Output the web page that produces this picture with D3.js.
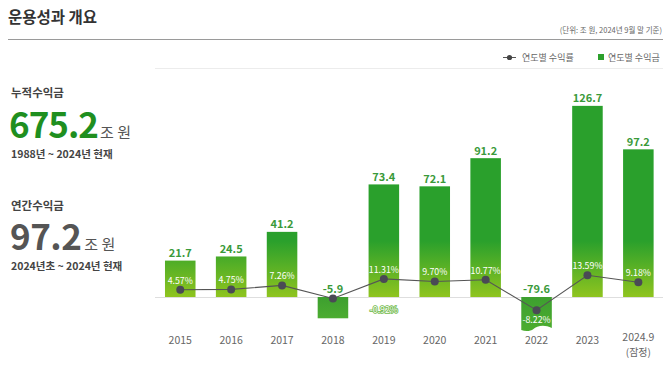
<!DOCTYPE html>
<html><head><meta charset="utf-8">
<script src="https://cdn.jsdelivr.net/npm/d3@7"></script>
<style>
html,body{margin:0;padding:0;background:#fff;}
svg{display:block;font-family:"Noto Sans CJK KR","Noto Sans",sans-serif;}
</style></head>
<body>
<svg id="c" width="670" height="366"></svg>
<script>
const categories = ["2015","2016","2017","2018","2019","2020","2021","2022","2023","2024.9"];
const categorySub = ["","","","","","","","","","(잠정)"];
const profits = [21.7, 24.5, 41.2, -5.9, 73.4, 72.1, 91.2, -79.6, 126.7, 97.2];
const rates = [4.57, 4.75, 7.26, -0.92, 11.31, 9.70, 10.77, -8.22, 13.59, 9.18];
// column under which each rate label is printed (the original prints the 2018 label under 2019)
const rateLabelCats = ["2015","2016","2017","2019","2019","2020","2021","2022","2023","2024.9"];
const brokenBars = ["2022"];
const legendItems = ["연도별 수익률","연도별 수익금"];

const fmt1 = v => d3.format(".1f")(v).replace("\u2212","-");
const fmt2 = v => d3.format(".2f")(v).replace("\u2212","-") + "%";

const svg = d3.select("#c");
const defs = svg.append("defs");

// header
svg.append("text").attr("x",8).attr("y",23).attr("font-size",15.5).attr("font-weight",700)
  .attr("fill","#333").text("운용성과 개요");
svg.append("text").attr("x",662).attr("y",33).attr("text-anchor","end").attr("font-size",7.5)
  .attr("fill","#666").text("(단위: 조 원, 2024년 9월 말 기준)");
svg.append("line").attr("x1",8).attr("x2",663).attr("y1",39.5).attr("y2",39.5).attr("stroke","#9a9a9a").attr("stroke-width",1);

// left panel
const lp = svg.append("g");
lp.append("text").attr("x",11).attr("y",97).attr("font-size",11.5).attr("font-weight",700).attr("fill","#444").text("누적수익금");
const t1 = lp.append("text").attr("x",9).attr("y",138).attr("fill","#1f8f1f");
t1.append("tspan").attr("font-size",35).attr("font-weight",700).attr("letter-spacing",-1).text("675.2");
t1.append("tspan").attr("font-size",15).attr("fill","#555").attr("dx",2).text("조 원");
lp.append("text").attr("x",11).attr("y",158).attr("font-size",10.5).attr("font-weight",700).attr("fill","#444").text("1988년 ~ 2024년 현재");
lp.append("text").attr("x",11).attr("y",210).attr("font-size",11.5).attr("font-weight",700).attr("fill","#444").text("연간수익금");
const t2 = lp.append("text").attr("x",10).attr("y",250).attr("fill","#555");
t2.append("tspan").attr("font-size",35).attr("font-weight",700).attr("letter-spacing",-0.5).text("97.2");
t2.append("tspan").attr("font-size",15).attr("fill","#555").attr("dx",3).text("조 원");
lp.append("text").attr("x",11).attr("y",270).attr("font-size",10.5).attr("font-weight",700).attr("fill","#444").text("2024년초 ~ 2024년 현재");

// legend
const lg = svg.append("g");
lg.append("line").attr("x1",503).attr("x2",516).attr("y1",57.5).attr("y2",57.5).attr("stroke","#555");
lg.append("circle").attr("cx",509.5).attr("cy",57.5).attr("r",2.6).attr("fill","#444");
lg.append("text").attr("x",522).attr("y",61).attr("font-size",9).attr("fill","#666").text(legendItems[0]);
lg.append("rect").attr("x",598).attr("y",54).attr("width",6).attr("height",6).attr("fill","#2ca02c");
lg.append("text").attr("x",608).attr("y",61).attr("font-size",9).attr("fill","#666").text(legendItems[1]);
svg.append("line").attr("x1",155).attr("x2",663).attr("y1",68.5).attr("y2",68.5).attr("stroke","#ececec");

// scales
const x = d3.scaleBand().domain(categories).range([154.8, 663.8]).paddingInner(0.4).paddingOuter(0.2);
const y = d3.scaleLinear().domain([-3, 130]).range([297, 101]);
const base = y.range()[0];
const negDepth = d3.scaleLog().domain([1, 80]).range([14, 32]);
const yR = d3.scaleLinear().domain([-10, 15]).range([313, 273]);

// gradients
const gp = defs.append("linearGradient").attr("id","gpos").attr("gradientUnits","userSpaceOnUse")
  .attr("x1",0).attr("x2",0).attr("y1",y(35)).attr("y2",base);
gp.append("stop").attr("offset",0).attr("stop-color","#2aa02c");
gp.append("stop").attr("offset",1).attr("stop-color","#8fc41f");
const gn = defs.append("linearGradient").attr("id","gneg").attr("x1",0).attr("x2",0).attr("y1",0).attr("y2",1);
gn.append("stop").attr("offset",0).attr("stop-color","#3d9f2f");
gn.append("stop").attr("offset",1).attr("stop-color","#4cad30");

// baseline
svg.append("line").attr("x1",155).attr("x2",663).attr("y1",base+0.5).attr("y2",base+0.5).attr("stroke","#dedede");

const data = categories.map((c,i)=>({c, v:profits[i], r:rates[i], lc:rateLabelCats[i], sub:categorySub[i]}));

// bars
const bars = svg.append("g");
data.forEach(d=>{
  const x0 = x(d.c), w = x.bandwidth();
  if (d.v >= 0) {
    bars.append("rect").attr("x",x0).attr("y",y(d.v)).attr("width",w).attr("height",base - y(d.v)).attr("fill","url(#gpos)");
  } else {
    const dep = negDepth(Math.abs(d.v));
    if (brokenBars.includes(d.c)) {
      const b = base + dep;
      const p = d3.path();
      p.moveTo(x0, base); p.lineTo(x0+w, base); p.lineTo(x0+w, b-1);
      p.bezierCurveTo(x0+w*0.75, b-5, x0+w*0.5, b-3, x0+w*0.4, b);
      p.bezierCurveTo(x0+w*0.3, b+2.5, x0+w*0.12, b+2.5, x0, b+1);
      p.closePath();
      bars.append("path").attr("d",p.toString()).attr("fill","url(#gneg)");
    } else {
      bars.append("rect").attr("x",x0).attr("y",base).attr("width",w).attr("height",dep).attr("fill","url(#gneg)");
    }
  }
});

// value labels
svg.append("g").selectAll("text").data(data).join("text")
  .attr("x",d=>x(d.c)+x.bandwidth()/2)
  .attr("y",d=>d.v>=0 ? y(d.v)-3.5 : base-4)
  .attr("text-anchor","middle").attr("font-size",11).attr("font-weight",700).attr("fill","#3a9a3a")
  .text(d=>fmt1(d.v));

// line
const cx = d=>x(d.c)+x.bandwidth()/2;
svg.append("path").datum(data).attr("fill","none").attr("stroke","#555").attr("stroke-width",1.1)
  .attr("d", d3.line().x(cx).y(d=>yR(d.r)));
svg.append("g").selectAll("circle").data(data).join("circle")
  .attr("cx",cx).attr("cy",d=>yR(d.r)).attr("r",4).attr("fill","#4a4a55");

// rate labels
svg.append("g").selectAll("text").data(data).join("text")
  .attr("x",d=>x(d.lc)+x.bandwidth()/2)
  .attr("y",d=>{
    if (d.r >= 0) return yR(d.r)-6;
    if (d.lc !== d.c) return 313;
    return yR(d.r)+13;
  })
  .attr("text-anchor","middle").attr("font-size",8.8).attr("fill","#fff")
  .attr("stroke",d=>d.lc!==d.c?"#6fb94a":"none").attr("stroke-width",1.6).attr("paint-order","stroke")
  .text(d=>fmt2(d.r));

// x axis labels
const ax = svg.append("g").selectAll("g").data(data).join("g");
ax.append("text").attr("x",cx).attr("y",d=>d.sub?341:344).attr("text-anchor","middle").attr("font-size",10.5).attr("fill","#666")
  .text(d=>d.c);
ax.filter(d=>d.sub).append("text").attr("x",cx).attr("y",355.5).attr("text-anchor","middle").attr("font-size",10).attr("fill","#666")
  .text(d=>d.sub);
</script>
</body></html>
